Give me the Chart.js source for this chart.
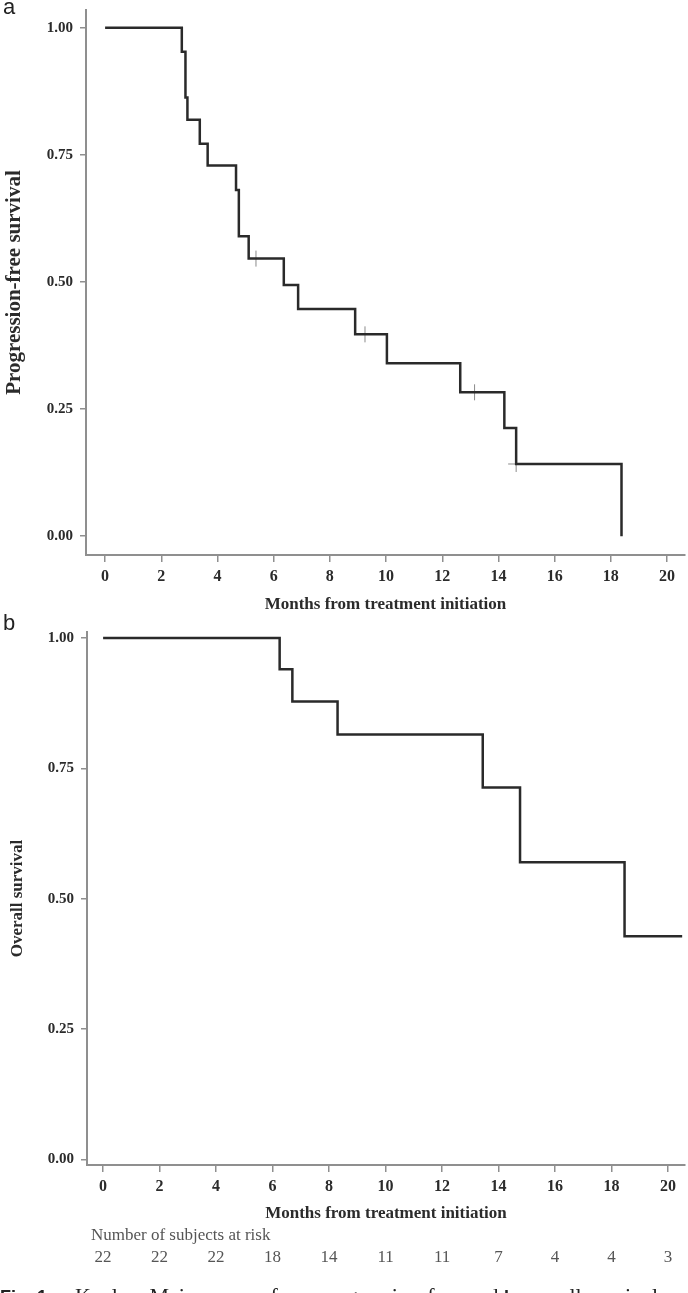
<!DOCTYPE html>
<html>
<head>
<meta charset="utf-8">
<script src="https://cdn.jsdelivr.net/npm/chart.js@4"></script>
<style>
  html, body { margin: 0; padding: 0; background: #fff; }
  body { width: 688px; height: 1293px; position: relative; overflow: hidden; }
  canvas { position: absolute; left: 0; }
  #pfsCanvas { top: 0; }
  #osCanvas { top: 600px; }
  #caption {
    position: absolute; left: 0; top: 1283px; white-space: nowrap; line-height: 22px;
    font: 22px "Liberation Serif", "Times New Roman", serif; color: #222;
  }
  #caption b { font-family: "Liberation Sans", Arial, sans-serif; font-size: 18px; }
</style>
</head>
<body>
<canvas id="pfsCanvas" width="688" height="620"></canvas>
<canvas id="osCanvas" width="688" height="693"></canvas>
<div id="caption"><b>Fig. 1</b><span style="margin-left:28px">Kaplan–Meier curves for</span> <b>a</b> progression-free and <b>b</b> overall survival</div>
<script>
const xTicks = [0, 2, 4, 6, 8, 10, 12, 14, 16, 18, 20];
const yTicks = [0, 0.25, 0.5, 0.75, 1];

// panel a: progression-free survival (step points = event times)
const pfsMonths = [0, 2.73, 2.86, 2.93, 3.37, 3.65, 4.66, 4.76, 5.11, 6.36, 6.87, 8.9, 10.03, 12.64, 14.21, 14.63, 18.38];
const pfsSurvival = [1, 0.953, 0.863, 0.819, 0.772, 0.729, 0.681, 0.590, 0.546, 0.494, 0.447, 0.397, 0.340, 0.283, 0.213, 0.142, 0];
const pfsCensorMonths = [5.37, 9.25, 13.15, 14.63];
const pfsCensorSurvival = [0.546, 0.397, 0.283, 0.142];

// panel b: overall survival
const osMonths = [0, 6.25, 6.70, 8.30, 13.44, 14.76, 18.46, 20.5];
const osSurvival = [1, 0.940, 0.878, 0.815, 0.713, 0.570, 0.428, 0.428];

const riskCounts = [22, 22, 22, 18, 14, 11, 11, 7, 4, 4, 3];

const SERIF = '"Liberation Serif", "Times New Roman", serif';
const SANS = '"Liberation Sans", Arial, sans-serif';
const TEXT = "#2b2b2b";
const AXIS = "#8f8f8f";
const CURVE = "#2a2a2a";

function toPoints(xs, ys) {
  return xs.map((x, i) => ({ x: x, y: ys[i] }));
}

function makeChart(id, cfg) {
  const ctx = document.getElementById(id).getContext("2d");
  return new Chart(ctx, {
    type: "scatter",
    data: { datasets: cfg.datasets },
    options: {
      responsive: false,
      animation: false,
      events: [],
      layout: {
        autoPadding: false,
        padding: { top: cfg.padTop, right: 3, bottom: cfg.padBottom, left: 0 }
      },
      plugins: { legend: { display: false }, tooltip: { enabled: false } },
      scales: {
        x: {
          type: "linear",
          min: cfg.xMin,
          max: cfg.xMax,
          afterFit: s => { s.height = cfg.xHeight; s.paddingLeft = 0; s.paddingRight = 0; },
          afterBuildTicks: s => { s.ticks = xTicks.map(v => ({ value: v })); },
          border: { color: AXIS, width: 2 },
          grid: { drawOnChartArea: false, tickLength: 7, color: AXIS, lineWidth: 1.5 },
          ticks: {
            color: TEXT, padding: 5.4, maxRotation: 0, autoSkip: false,
            font: { family: SERIF, weight: "bold", size: 16 },
            callback: v => String(v)
          },
          title: {
            display: true, text: "Months from treatment initiation", color: TEXT,
            font: { family: SERIF, weight: "bold", size: 17 },
            padding: { top: 0, bottom: 0 }
          }
        },
        y: {
          type: "linear",
          min: cfg.yMin,
          max: cfg.yMax,
          afterFit: s => { s.width = cfg.yWidth; s.paddingTop = 0; s.paddingBottom = 0; },
          afterBuildTicks: s => { s.ticks = yTicks.map(v => ({ value: v })); },
          border: { color: AXIS, width: 2 },
          grid: { drawOnChartArea: false, tickLength: 6, color: AXIS, lineWidth: 1.5 },
          ticks: {
            color: TEXT, padding: 7,
            font: { family: SERIF, weight: "bold", size: 15 },
            callback: v => v.toFixed(2)
          },
          title: {
            display: true, text: cfg.yTitle, color: TEXT,
            font: { family: SERIF, weight: "bold", size: cfg.yTitleSize },
            padding: { top: cfg.yTitlePad, bottom: 0 }
          }
        }
      }
    },
    plugins: [{ id: "extras", afterDraw: cfg.afterDraw }]
  });
}

function curveDataset(xs, ys) {
  return {
    data: toPoints(xs, ys),
    showLine: true,
    stepped: true,
    borderColor: CURVE,
    borderWidth: 2.5,
    pointRadius: 0,
    fill: false
  };
}

makeChart("pfsCanvas", {
  padTop: 10, padBottom: 4.8, xHeight: 60.2, yWidth: 86,
  xMin: -0.68, xMax: 20.64, yMin: -0.037, yMax: 1.035,
  yTitle: "Progression-free survival", yTitleSize: 21, yTitlePad: 1.5,
  datasets: [
    curveDataset(pfsMonths, pfsSurvival),
    {
      data: toPoints(pfsCensorMonths, pfsCensorSurvival),
      showLine: false,
      pointStyle: "cross",
      pointRadius: 8,
      pointBorderColor: "#8a8a8a",
      pointBorderWidth: 1
    }
  ],
  afterDraw: chart => {
    const c = chart.ctx;
    c.save();
    c.fillStyle = "#222";
    c.font = "22px " + SANS;
    c.textBaseline = "alphabetic";
    c.fillText("a", 3, 14);
    c.restore();
  }
});

makeChart("osCanvas", {
  padTop: 32, padBottom: 68.8, xHeight: 59.2, yWidth: 87,
  xMin: -0.57, xMax: 20.6, yMin: -0.011, yMax: 1.0115,
  yTitle: "Overall survival", yTitleSize: 17, yTitlePad: 7.8,
  datasets: [curveDataset(osMonths, osSurvival)],
  afterDraw: chart => {
    const c = chart.ctx;
    const xs = chart.scales.x;
    c.save();
    c.fillStyle = "#222";
    c.font = "22px " + SANS;
    c.textBaseline = "alphabetic";
    c.fillText("b", 3, 30);

    c.fillStyle = "#555";
    c.font = "17px " + SERIF;
    c.textBaseline = "middle";
    c.textAlign = "left";
    c.fillText("Number of subjects at risk", 91, 636);
    c.textAlign = "center";
    riskCounts.forEach((n, i) => {
      c.fillText(String(n), xs.getPixelForValue(xTicks[i]), 658);
    });
    c.restore();
  }
});
</script>
</body>
</html>
